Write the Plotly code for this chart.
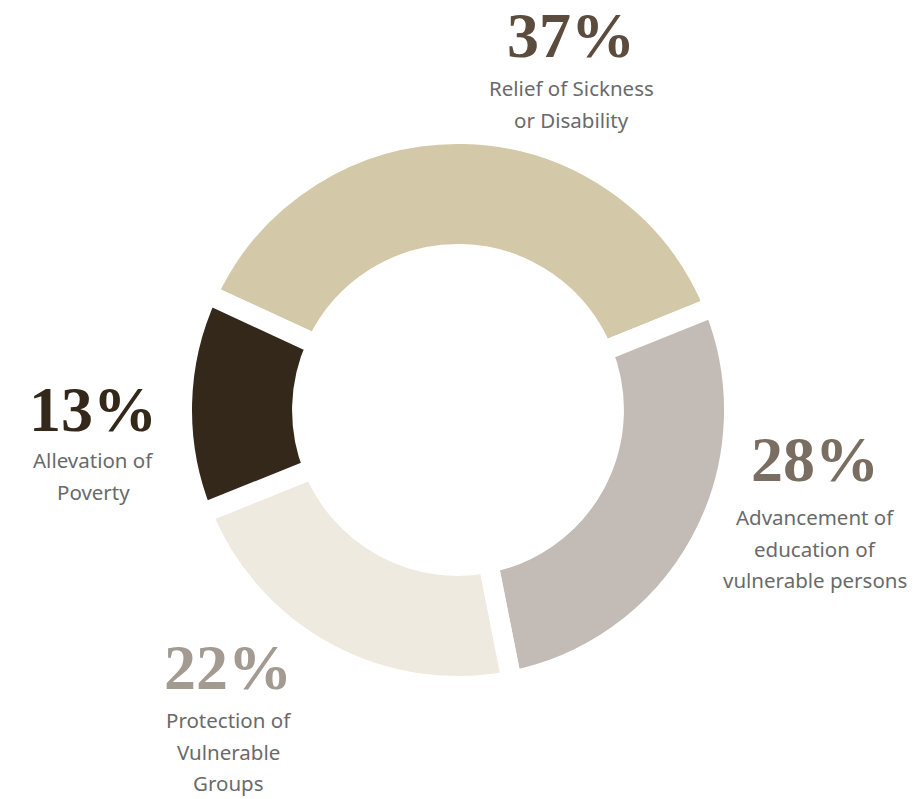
import plotly.graph_objects as go

# Data
categories = ["Relief of Sickness or Disability",
              "Advancement of education of vulnerable persons",
              "Protection of Vulnerable Groups",
              "Allevation of Poverty"]
values = [37, 28, 22, 13]
pct_labels = ["37%", "28%", "22%", "13%"]
label_lines = [["Relief of Sickness", "or Disability"],
               ["Advancement of", "education of", "vulnerable persons"],
               ["Protection of", "Vulnerable", "Groups"],
               ["Allevation of", "Poverty"]]
slice_colors = ["#D3C8A8", "#C2BBB6", "#EEEAE0", "#33281A"]
pct_colors = ["#5B4C3E", "#7A6E62", "#A39A91", "#33281A"]

W, H = 915, 799

def px(x, y):
    return x / W, 1 - y / H

# pixel anchors for annotation blocks (center x, percent center y, first label line y)
anchors = [(571, 35, 88), (815, 459, 517), (228, 667, 720), (93, 409, 460)]
line_gap = 31.5

cx, cy, R = 458, 410, 276
x0, y0 = px(cx - R, cy + R)
x1, y1 = px(cx + R, cy - R)

fig = go.Figure(go.Pie(
    labels=categories,
    values=values,
    sort=False,
    direction="clockwise",
    rotation=-65.2,
    hole=0.565,
    marker=dict(colors=slice_colors, line=dict(color="#FFFFFF", width=20)),
    textinfo="none",
    hoverinfo="label+percent",
    showlegend=False,
    domain=dict(x=[x0, x1], y=[y0, y1]),
))

annotations = []
for i, (ax, ay, ly) in enumerate(anchors):
    xx, yy = px(ax, ay)
    annotations.append(dict(
        x=xx, y=yy, xref="paper", yref="paper", text=pct_labels[i],
        showarrow=False, xanchor="center", yanchor="middle",
        font=dict(family="Liberation Serif", size=64, color=pct_colors[i], weight="bold"),
    ))
    for j, line in enumerate(label_lines[i]):
        lx, lyy = px(ax, ly + j * line_gap)
        annotations.append(dict(
            x=lx, y=lyy, xref="paper", yref="paper", text=line,
            showarrow=False, xanchor="center", yanchor="middle",
            font=dict(family="Noto Sans", size=20.5, color="#6A6A6A"),
        ))

fig.update_layout(
    width=W, height=H,
    margin=dict(l=0, r=0, t=0, b=0),
    paper_bgcolor="#FFFFFF",
    plot_bgcolor="#FFFFFF",
    annotations=annotations,
)

fig.write_html("out.html")
